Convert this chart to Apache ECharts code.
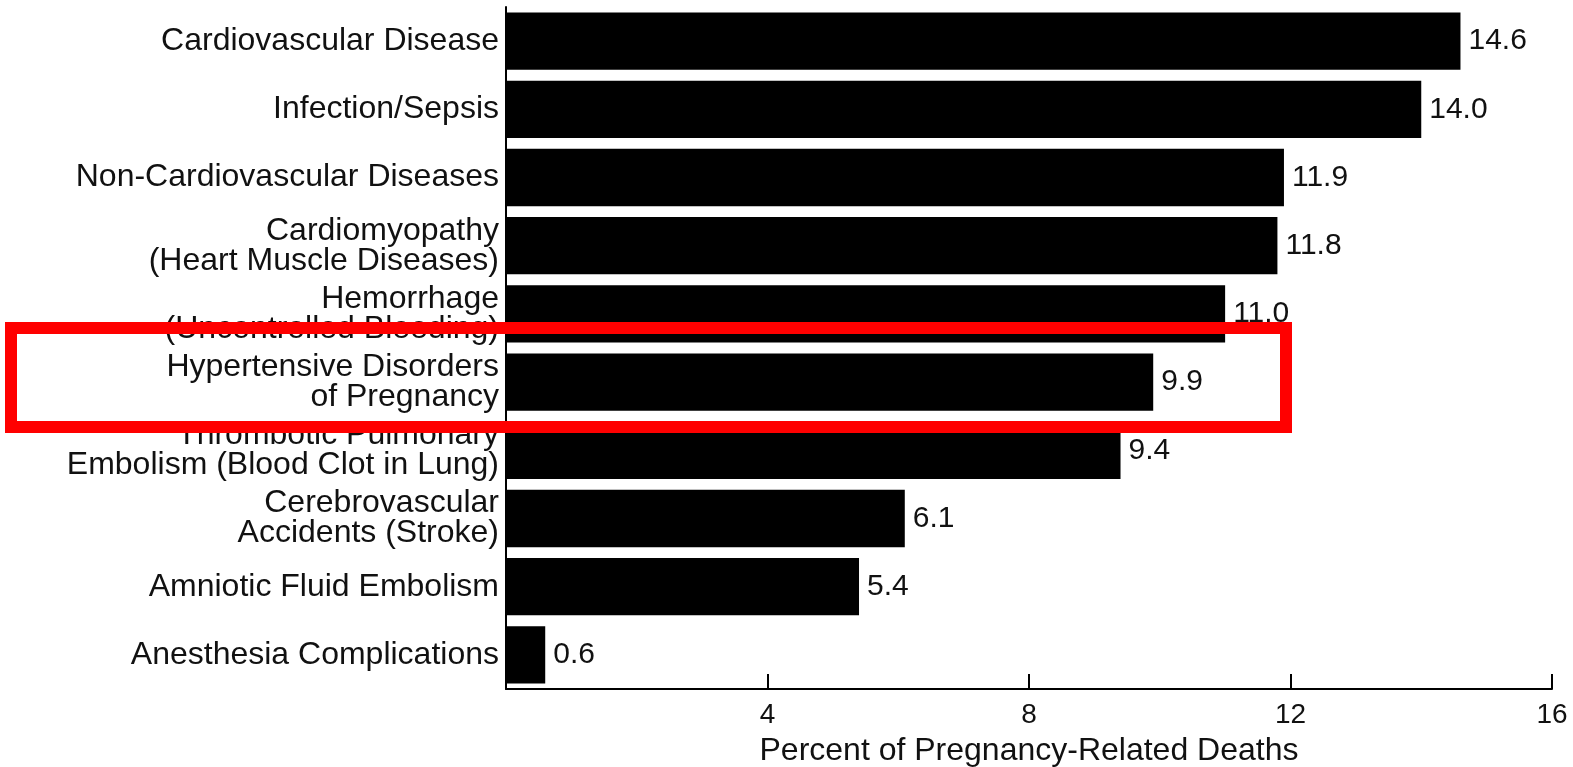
<!DOCTYPE html>
<html>
<head>
<meta charset="utf-8">
<style>
  html, body { margin: 0; padding: 0; background: #ffffff; }
  #chart { width: 1573px; height: 767px; }
</style>
<script src="https://cdn.jsdelivr.net/npm/echarts@6/dist/echarts.min.js"></script>
</head>
<body>
<div id="chart"></div>
<script>
// Causes of pregnancy-related death, percent of all such deaths
const categories = [
  'Cardiovascular Disease',
  'Infection/Sepsis',
  'Non-Cardiovascular Diseases',
  'Cardiomyopathy\n(Heart Muscle Diseases)',
  'Hemorrhage\n(Uncontrolled Bleeding)',
  'Hypertensive Disorders\nof Pregnancy',
  'Thrombotic Pulmonary\nEmbolism (Blood Clot in Lung)',
  'Cerebrovascular\nAccidents (Stroke)',
  'Amniotic Fluid Embolism',
  'Anesthesia Complications'
];
const percents = [14.6, 14.0, 11.9, 11.8, 11.0, 9.9, 9.4, 6.1, 5.4, 0.6];
const xTicks = [0, 4, 8, 12, 16];
const xAxisTitle = 'Percent of Pregnancy-Related Deaths';

const FONT = '"Liberation Sans", Arial, Helvetica, sans-serif';
const INK = '#111111';

const chart = echarts.init(document.getElementById('chart'), null, { renderer: 'canvas' });

chart.setOption({
  backgroundColor: '#ffffff',
  animation: false,
  grid: {
    left: 506, right: 21, top: 7, bottom: 78,
    containLabel: false,
    outerBoundsMode: 'none'
  },
  xAxis: {
    type: 'value',
    min: xTicks[0],
    max: xTicks[xTicks.length - 1],
    interval: xTicks[1] - xTicks[0],
    name: xAxisTitle,
    nameLocation: 'middle',
    nameGap: 46,
    nameTextStyle: { fontFamily: FONT, fontSize: 32, color: INK },
    axisLine: { show: true, lineStyle: { color: '#000', width: 2 } },
    axisTick: { show: true, inside: true, length: 15, lineStyle: { color: '#000', width: 2 } },
    axisLabel: {
      fontFamily: FONT, fontSize: 28, color: INK, margin: 12,
      formatter: v => (v === 0 ? '' : String(v))
    },
    splitLine: { show: false }
  },
  yAxis: {
    type: 'category',
    data: categories,
    inverse: true,
    axisLine: { show: true, lineStyle: { color: '#000', width: 2 } },
    axisTick: { show: false },
    axisLabel: {
      fontFamily: FONT, fontSize: 32, lineHeight: 30, color: INK, margin: 7, align: 'right'
    }
  },
  series: [{
    type: 'bar',
    data: percents,
    barCategoryGap: '16%',
    itemStyle: { color: '#000000' },
    label: {
      show: true,
      position: 'right',
      distance: 8,
      fontFamily: FONT,
      fontSize: 30,
      color: INK,
      formatter: p => p.value.toFixed(1)
    }
  }],
  graphic: [{
    // highlight frame around the hypertensive disorders row
    type: 'rect',
    z: 100,
    shape: { x: 11, y: 328, width: 1275, height: 99 },
    style: { fill: 'none', stroke: '#ff0000', lineWidth: 12 }
  }]
});
</script>
</body>
</html>
